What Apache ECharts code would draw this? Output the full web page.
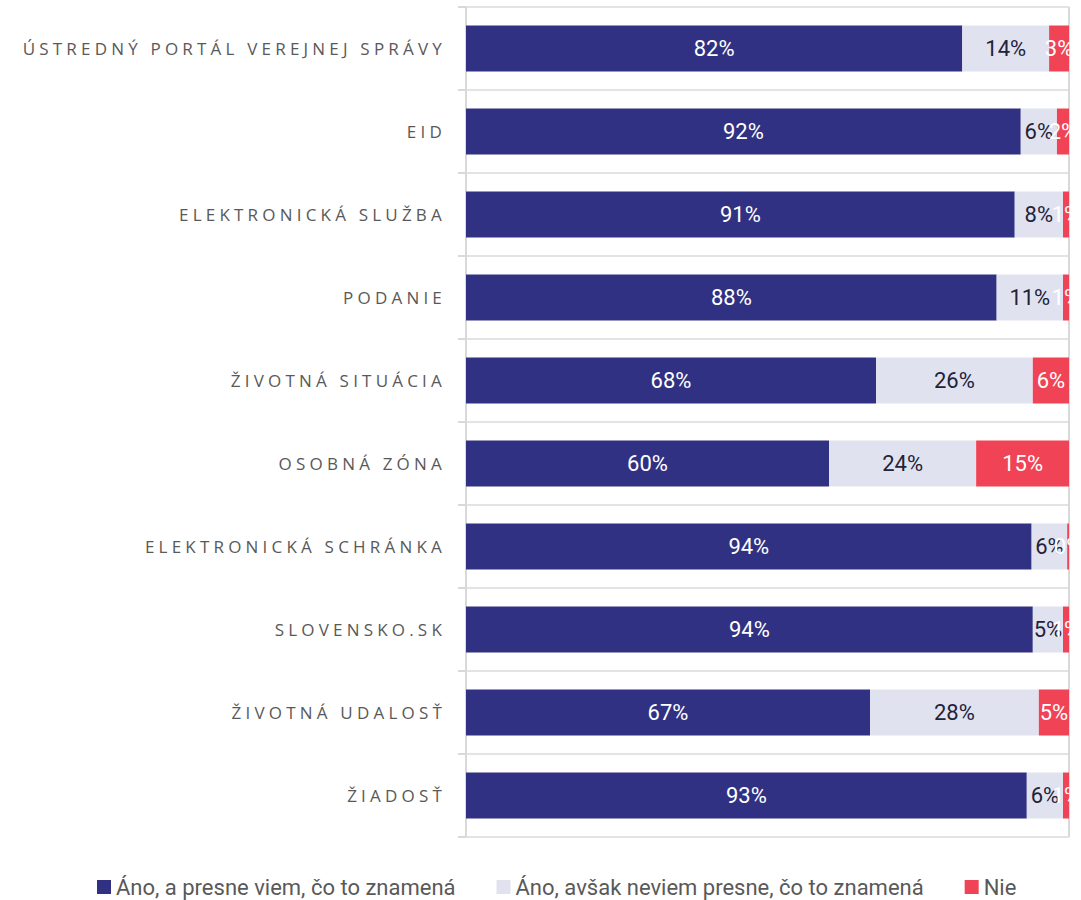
<!DOCTYPE html>
<html>
<head>
<meta charset="utf-8">
<script src="https://cdn.jsdelivr.net/npm/echarts@6/dist/echarts.min.js"></script>
<style>
  html, body { margin: 0; padding: 0; background: #ffffff; }
  #chart { width: 1081px; height: 900px; }
  /* spaced-out uppercase category names (the only right-anchored texts) */
  #chart svg text[text-anchor="end"] { letter-spacing: 4.2px; }
</style>
</head>
<body>
<div id="chart"></div>
<script>
// Awareness of e-government terms, shares of respondents (%)
const categories = [
  'ÚSTREDNÝ PORTÁL VEREJNEJ SPRÁVY',
  'EID',
  'ELEKTRONICKÁ SLUŽBA',
  'PODANIE',
  'ŽIVOTNÁ SITUÁCIA',
  'OSOBNÁ ZÓNA',
  'ELEKTRONICKÁ SCHRÁNKA',
  'SLOVENSKO.SK',
  'ŽIVOTNÁ UDALOSŤ',
  'ŽIADOSŤ'
];
const seriesNames = [
  'Áno, a presne viem, čo to znamená',
  'Áno, avšak neviem presne, čo to znamená',
  'Nie'
];
const anoPresne = [82.3, 92, 91, 88, 68, 60.2, 93.8, 94, 67, 93];
const anoNepresne = [14.4, 6, 8, 11, 26, 24.4, 5.9, 5, 28, 6];
const nie = [3.3, 2, 1, 1, 6, 15.4, 0.3, 1, 5, 1];

const colors = ['#303182', '#E1E2F0', '#F04355'];
const labelColors = ['#ffffff', '#22223a', '#ffffff'];
const values = [anoPresne, anoNepresne, nie];

const chart = echarts.init(document.getElementById('chart'), null, { renderer: 'svg' });

chart.setOption({
  animation: false,
  grid: { left: 466, right: 12, top: 7, bottom: 63 },
  legend: {
    left: 97,
    top: 876,
    padding: 0,
    icon: 'rect',
    itemWidth: 14,
    itemHeight: 14,
    itemGap: 41,
    textStyle: {
      fontFamily: 'Roboto',
      fontSize: 22,
      lineHeight: 21,
      color: '#595959'
    },
    data: seriesNames
  },
  xAxis: {
    type: 'value',
    min: 0,
    max: 100,
    interval: 100,
    axisLabel: { show: false },
    axisLine: { show: false },
    axisTick: { show: false },
    splitLine: { show: true, lineStyle: { color: '#d9d9d9', width: 2 } }
  },
  yAxis: {
    type: 'category',
    inverse: true,
    data: categories,
    axisLine: { show: true, lineStyle: { color: '#d9d9d9', width: 2 } },
    axisTick: { show: true, length: 8, lineStyle: { color: '#d9d9d9', width: 2 } },
    splitLine: { show: true, lineStyle: { color: '#e3e3e3', width: 2 } },
    axisLabel: {
      margin: 20,
      fontFamily: 'Open Sans',
      fontSize: 17,
      color: '#595959'
    }
  },
  series: seriesNames.map((name, i) => ({
    name,
    type: 'bar',
    stack: 'total',
    barWidth: 46,
    itemStyle: { color: colors[i] },
    label: {
      show: true,
      position: 'inside',
      fontFamily: 'Roboto',
      fontSize: 22,
      color: labelColors[i],
      formatter: p => Math.round(p.value) + '%'
    },
    data: values[i]
  }))
});
</script>
</body>
</html>
